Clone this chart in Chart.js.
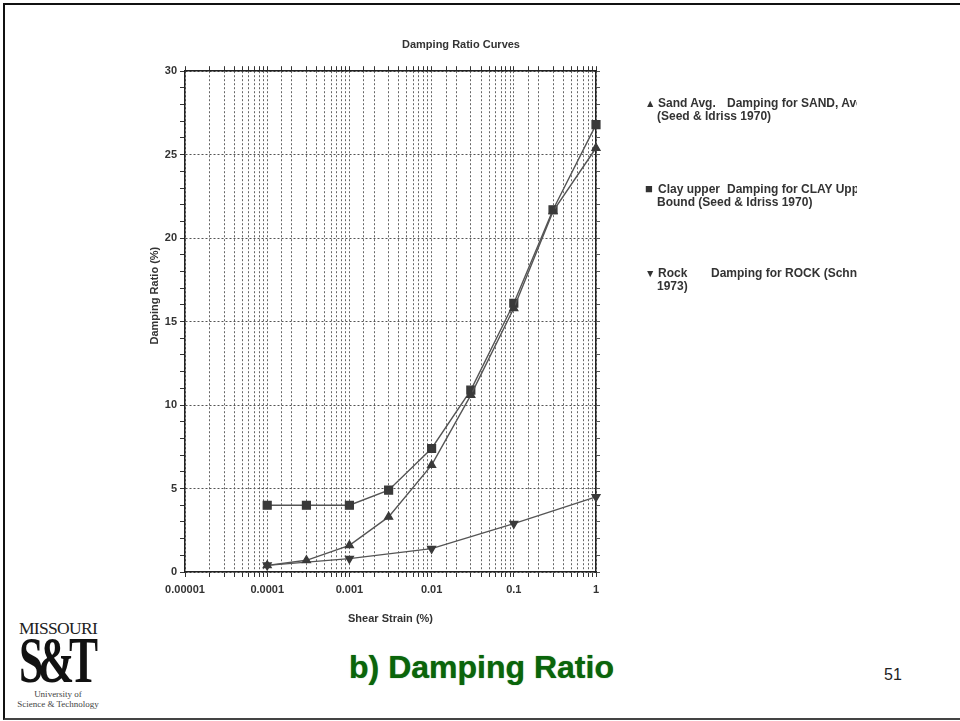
<!DOCTYPE html>
<html><head><meta charset="utf-8">
<script src="https://cdn.jsdelivr.net/npm/chart.js@4/dist/chart.umd.min.js"></script>
<style>
html,body{margin:0;padding:0;background:#fff;}
body{width:960px;height:721px;position:relative;overflow:hidden;font-family:"Liberation Sans",Arial,sans-serif;}
#frame{position:absolute;left:3px;top:3px;width:990px;height:713px;border-left:2px solid #111;border-top:2px solid #111;border-bottom:2px solid #444;}
#c{position:absolute;left:130px;top:0;}
.lg{position:absolute;left:645px;width:212px;height:30px;overflow:hidden;white-space:nowrap;font:bold 12px "Liberation Sans",Arial,sans-serif;color:#333;}
.lg span{position:absolute;top:0;}
.lg .l2{top:13px;left:12px;}
.mk{font-size:10.5px;left:0;top:1px !important;}
.mk.sq{font-size:13px;top:-1px !important;}
#missouri{position:absolute;left:19px;top:618px;font:17.5px "Liberation Serif","DejaVu Serif",serif;color:#222;letter-spacing:-0.7px;}
#st{position:absolute;left:19px;top:627px;font:bold 66px "Liberation Serif","DejaVu Serif",serif;color:#111;letter-spacing:-8px;transform:scaleX(0.66);transform-origin:0 0;line-height:66px;}
#univ{position:absolute;left:6px;width:104px;top:689px;text-align:center;font:9px "Liberation Serif","DejaVu Serif",serif;color:#444;line-height:10px;}
#sub{position:absolute;left:300px;width:363px;top:649px;text-align:center;font:bold 32px "Liberation Sans",Arial,sans-serif;color:#0a650a;text-shadow:0 0 1px #4a854a;}
#pg{position:absolute;left:884px;top:666px;font:16px "Liberation Sans",Arial,sans-serif;color:#222;}
</style></head>
<body>
<div id="frame"></div>
<canvas id="c" width="662" height="630"></canvas>

<div class="lg" style="top:96px"><span class="mk">&#9650;</span><span style="left:13px">Sand Avg.</span><span style="left:82px">Damping for SAND, Average</span><span class="l2">(Seed &amp; Idriss 1970)</span></div>
<div class="lg" style="top:182px"><span class="mk sq">&#9632;</span><span style="left:13px">Clay upper</span><span style="left:82px">Damping for CLAY Upper</span><span class="l2">Bound (Seed &amp; Idriss 1970)</span></div>
<div class="lg" style="top:266px"><span class="mk">&#9660;</span><span style="left:13px">Rock</span><span style="left:66px">Damping for ROCK (Schnabel</span><span class="l2">1973)</span></div>

<div id="missouri">MISSOURI</div>
<div id="st">S&amp;T</div>
<div id="univ">University of<br>Science &amp; Technology</div>
<div id="sub">b) Damping Ratio</div>
<div id="pg">51</div>

<script>
// ---- data ----
const strain      = [0.0001, 0.0003, 0.001, 0.003, 0.01, 0.03, 0.1, 0.3, 1];
const sandAvg     = [0.4, 0.7, 1.6, 3.3, 6.4, 10.6, 15.8, 21.6, 25.4];
const clayUpper   = [4.0, 4.0, 4.0, 4.9, 7.4, 10.9, 16.1, 21.7, 26.8];
const rockStrain  = [0.0001, 0.001, 0.01, 0.1, 1];
const rockDamping = [0.4, 0.8, 1.4, 2.9, 4.5];
const xTickLabels = ['0.00001', '0.0001', '0.001', '0.01', '0.1', '1'];
const yTickLabels = ['0', '5', '10', '15', '20', '25', '30'];

const pts = (xs, ys) => xs.map((x, i) => ({x: x, y: ys[i]}));
const TXT = '#333';
const fnt = {family: '"Liberation Sans", Arial, sans-serif', size: 11, weight: 'bold'};
const decadeIndex = v => {
  const e = Math.log10(v);
  const r = Math.round(e);
  return Math.abs(e - r) < 1e-6 ? r + 5 : -1;
};

new Chart(document.getElementById('c'), {
  type: 'line',
  data: {
    datasets: [
      {label: 'Sand Avg.', data: pts(strain, sandAvg), borderColor: '#555', backgroundColor: '#3a3a3a',
       borderWidth: 1.4, pointStyle: 'triangle', pointRadius: 4.5, pointBorderColor: '#3a3a3a', tension: 0, clip: false},
      {label: 'Clay upper', data: pts(strain, clayUpper), borderColor: '#555', backgroundColor: '#3a3a3a',
       borderWidth: 1.4, pointStyle: 'rect', pointRadius: 5.5, pointBorderColor: '#3a3a3a', tension: 0, clip: false},
      {label: 'Rock', data: pts(rockStrain, rockDamping), borderColor: '#555', backgroundColor: '#3a3a3a',
       borderWidth: 1.4, pointStyle: 'triangle', pointRotation: 180, pointRadius: 4.5, pointBorderColor: '#3a3a3a', tension: 0, clip: false}
    ]
  },
  options: {
    responsive: false,
    animation: false,
    devicePixelRatio: 1,
    layout: {padding: 0},
    plugins: {
      legend: {display: false},
      tooltip: {enabled: false},
      title: {display: true, text: 'Damping Ratio Curves', color: TXT, font: fnt, padding: {top: 38, bottom: 9}}
    },
    scales: {
      x: {
        type: 'logarithmic', position: 'bottom', min: 0.00001, max: 1,
        afterFit: s => { s.height = 58; },
        border: {display: true, color: '#222', width: 1.5, dash: [2, 2]},
        grid: {color: '#666', lineWidth: 1, drawTicks: true, tickLength: 5, tickColor: '#333', tickWidth: 1},
        ticks: {autoSkip: false, maxRotation: 0, minRotation: 0, padding: 6, color: TXT, font: fnt,
          callback: v => { const i = decadeIndex(v); return i >= 0 ? xTickLabels[i] : ''; }},
        title: {display: true, text: 'Shear Strain (%)', color: TXT, font: fnt, padding: {top: 0, bottom: 4}}
      },
      x2: {
        type: 'logarithmic', position: 'top', min: 0.00001, max: 1,
        afterFit: s => { s.height = 11; },
        border: {display: true, color: '#222', width: 1.5},
        grid: {drawOnChartArea: false, drawTicks: true, tickLength: 5, tickColor: '#333', tickWidth: 1},
        ticks: {display: false, autoSkip: false}
      },
      y: {
        type: 'linear', position: 'left', min: 0, max: 30,
        afterFit: s => { s.width = 55; },
        border: {display: true, color: '#222', width: 1.5, dash: [2, 2]},
        grid: {color: c => (c.tick && c.tick.value % 5 === 0) ? '#555' : 'rgba(0,0,0,0)',
               lineWidth: 1, drawTicks: true, tickLength: 5, tickColor: '#333', tickWidth: 1},
        ticks: {stepSize: 1, autoSkip: false, padding: 3, color: TXT, font: fnt,
          callback: v => (v % 5 === 0) ? yTickLabels[v / 5] : ''},
        title: {display: true, text: '                 Damping Ratio (%)', color: TXT, font: fnt, padding: {top: 18}}
      },
      y2: {
        type: 'linear', position: 'right', min: 0, max: 30,
        afterFit: s => { s.width = 196; },
        border: {display: true, color: '#222', width: 1.5},
        grid: {drawOnChartArea: false, drawTicks: true, tickLength: 4, tickColor: '#555', tickWidth: 1},
        ticks: {display: false, stepSize: 1, autoSkip: false}
      }
    }
  }
});
</script>
</body></html>
